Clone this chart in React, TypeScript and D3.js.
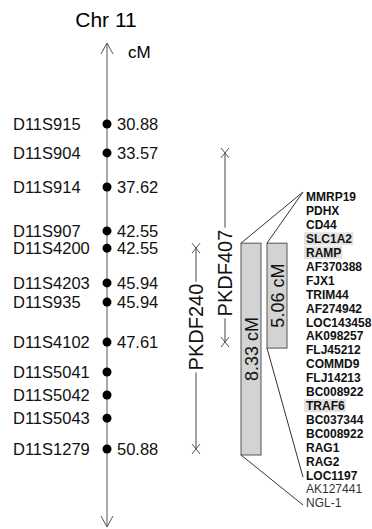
import React, { useEffect, useRef } from 'react';
import * as d3 from 'd3';

// markers along chromosome 11 (cM, null where not given)
const markerNames = ['D11S915', 'D11S904', 'D11S914', 'D11S907', 'D11S4200', 'D11S4203',
  'D11S935', 'D11S4102', 'D11S5041', 'D11S5042', 'D11S5043', 'D11S1279'];
const markerCM = [30.88, 33.57, 37.62, 42.55, 42.55, 45.94, 45.94, 47.61, null, null, null, 50.88];
// schematic track position of each marker (not to scale)
const markerTrack = [0, 8.9, 19.4, 32.9, 38.2, 48.9, 54.8, 67.1, 76.3, 83.4, 90.5, 100];

// linkage intervals
const intervalNames = ['PKDF407', 'PKDF240'];
const intervalFrom = ['D11S904', 'D11S4200'];
const intervalTo = ['D11S4102', 'D11S1279'];

// regions drawn as boxes, with the last gene each one covers
const regionFrom = ['D11S4200', 'D11S4200'];
const regionTo = ['D11S1279', 'D11S4102'];
const regionLastGene = ['NGL-1', 'LOC1197'];

const geneNames = ['MMRP19', 'PDHX', 'CD44', 'SLC1A2', 'RAMP', 'AF370388', 'FJX1', 'TRIM44',
  'AF274942', 'LOC143458', 'AK098257', 'FLJ45212', 'COMMD9', 'FLJ14213', 'BC008922', 'TRAF6',
  'BC037344', 'BC008922 ', 'RAG1', 'RAG2', 'LOC1197', 'AK127441', 'NGL-1'];
const geneHighlighted = ['SLC1A2', 'RAMP', 'TRAF6'];
const genePlain = ['AK127441', 'NGL-1'];

const W = 372;
const H = 529;
const FONT = '"Liberation Sans", Arial, Helvetica, sans-serif';
const axisX = 107;
const intervalX = [225, 196];
const intervalLabelAt = [0.635, 0.393];
const boxX = [241, 267];
const boxW = 20;
const geneX = 306;

export default function App() {
  const ref = useRef<SVGSVGElement>(null);

  useEffect(() => {
    const svg = d3.select(ref.current);
    svg.selectAll('*').remove();

    const y = d3.scaleLinear().domain([0, 100]).range([124, 449]);
    const markerY = (name: string) => y(markerTrack[markerNames.indexOf(name)]);
    const cmOf = (name: string) => markerCM[markerNames.indexOf(name)] as number;
    const gy = d3.scalePoint<string>().domain(geneNames).range([197, 503]);

    svg.append('text')
      .attr('x', 106).attr('y', 27)
      .attr('text-anchor', 'middle')
      .attr('font-size', 21)
      .text('Chr 11');

    // chromosome axis with open arrows at both ends
    svg.append('line')
      .attr('x1', axisX).attr('x2', axisX).attr('y1', 43).attr('y2', 527)
      .attr('stroke', '#555').attr('stroke-width', 1);
    svg.append('path')
      .attr('d', `M${axisX - 6},54L${axisX},43L${axisX + 6},54M${axisX - 6},516L${axisX},527L${axisX + 6},516`)
      .attr('fill', 'none').attr('stroke', '#555').attr('stroke-width', 1);
    svg.append('text')
      .attr('x', 128).attr('y', 58)
      .attr('font-size', 17)
      .text('cM');

    const markers = svg.append('g');
    markerNames.forEach((name, i) => {
      const yy = y(markerTrack[i]);
      markers.append('circle')
        .attr('cx', axisX).attr('cy', yy).attr('r', 4.5).attr('fill', '#000');
      markers.append('text')
        .attr('x', 13).attr('y', yy).attr('dy', '0.36em')
        .attr('font-size', 16.5).attr('fill', '#111')
        .text(name);
      if (markerCM[i] !== null) {
        markers.append('text')
          .attr('x', 117).attr('y', yy).attr('dy', '0.36em')
          .attr('font-size', 16.5).attr('fill', '#111')
          .text((markerCM[i] as number).toFixed(2));
      }
    });

    // linkage intervals, label sits in a gap of the line
    intervalNames.forEach((name, i) => {
      const x = intervalX[i];
      const y0 = markerY(intervalFrom[i]);
      const y1 = markerY(intervalTo[i]);
      const g = svg.append('g');
      const cy = y0 + (y1 - y0) * intervalLabelAt[i];
      const t = g.append('text')
        .attr('transform', `translate(${x},${cy}) rotate(-90)`)
        .attr('text-anchor', 'middle').attr('dy', '0.36em')
        .attr('font-size', 20).attr('fill', '#111')
        .text(name);
      const half = (t.node() as SVGTextElement).getComputedTextLength() / 2 + 2;
      g.append('path')
        .attr('d', `M${x},${y0}V${cy - half}M${x},${cy + half}V${y1}`)
        .attr('stroke', '#444').attr('fill', 'none');
      [y0, y1].forEach(yy => {
        g.append('path')
          .attr('d', `M${x - 4},${yy - 5}L${x + 4},${yy + 5}M${x - 4},${yy + 5}L${x + 4},${yy - 5}`)
          .attr('stroke', '#555').attr('fill', 'none');
      });
    });

    // gene list
    const genes = svg.append('g');
    const hl = genes.append('g');
    geneNames.forEach(name => {
      const plain = genePlain.includes(name);
      const t = genes.append('text')
        .attr('x', geneX).attr('y', gy(name) as number).attr('dy', '0.36em')
        .attr('font-size', 12)
        .attr('font-weight', plain ? 'normal' : 'bold')
        .attr('fill', plain ? '#333' : '#111')
        .text(name.trim());
      if (geneHighlighted.includes(name)) {
        const b = (t.node() as SVGTextElement).getBBox();
        hl.append('rect')
          .attr('x', b.x - 2).attr('y', (gy(name) as number) - 6.5)
          .attr('width', b.width + 3).attr('height', 13)
          .attr('fill', '#e2e2e2');
      }
    });

    // region boxes with connectors to the gene list
    const top = gy(geneNames[0]) as number - 5;
    regionFrom.forEach((from, i) => {
      const y0 = markerY(from) - 5;
      const y1 = markerY(regionTo[i]) + 6;
      const x = boxX[i];
      const g = svg.append('g');
      g.append('rect')
        .attr('x', x).attr('y', y0).attr('width', boxW).attr('height', y1 - y0)
        .attr('fill', '#d3d3d3').attr('stroke', '#555').attr('stroke-width', 1);
      g.append('text')
        .attr('transform', `translate(${x + boxW / 2 + 1},${(y0 + y1) / 2}) rotate(-90)`)
        .attr('text-anchor', 'middle').attr('dy', '0.36em')
        .attr('font-size', 18).attr('fill', '#111')
        .text(`${(cmOf(regionTo[i]) - cmOf(from)).toFixed(2)} cM`);
      g.append('path')
        .attr('d', `M${x},${y0}L${geneX - 3},${top}M${x},${y1}L${geneX - 3},${(gy(regionLastGene[i]) as number) + 2}`)
        .attr('stroke', '#333').attr('fill', 'none');
    });
  }, []);

  return (
    <svg ref={ref} width={W} height={H}
      style={{ position: 'absolute', left: 0, top: 0, fontFamily: FONT, background: '#fff' }} />
  );
}
